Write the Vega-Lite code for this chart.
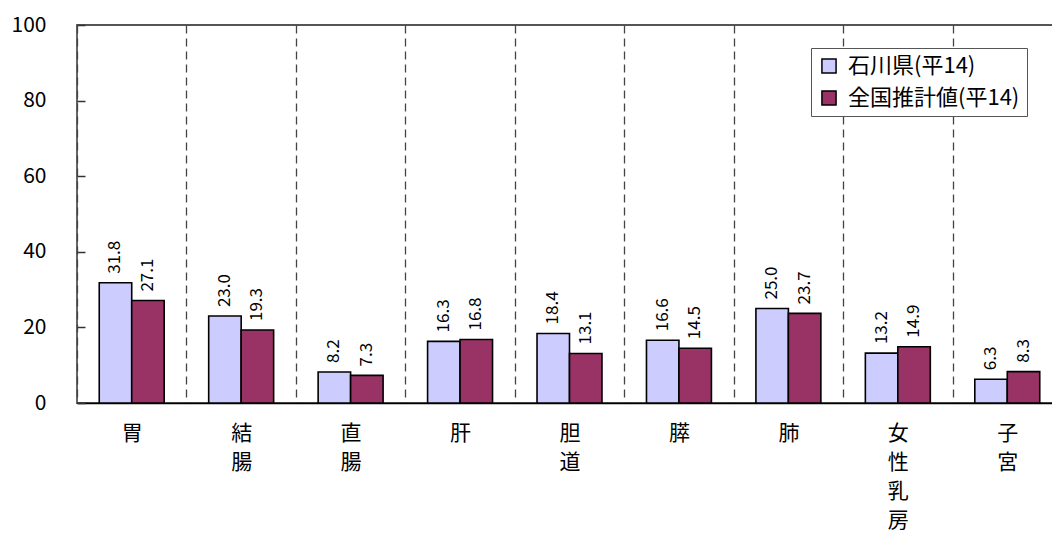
{
  "$schema": "https://vega.github.io/schema/vega-lite/v6.json",
  "width": 985,
  "height": 378,
  "autosize": "none",
  "padding": {"left": 77, "top": 25, "right": 0, "bottom": 141},
  "background": "white",
  "config": {
    "font": "Noto Sans CJK JP",
    "view": {"stroke": "#555555", "strokeWidth": 1.8}
  },
  "data": {
    "values": [
      {"site": "胃", "series": "石川県(平14)", "value": 31.8},
      {"site": "胃", "series": "全国推計値(平14)", "value": 27.1},
      {"site": "結腸", "series": "石川県(平14)", "value": 23.0},
      {"site": "結腸", "series": "全国推計値(平14)", "value": 19.3},
      {"site": "直腸", "series": "石川県(平14)", "value": 8.2},
      {"site": "直腸", "series": "全国推計値(平14)", "value": 7.3},
      {"site": "肝", "series": "石川県(平14)", "value": 16.3},
      {"site": "肝", "series": "全国推計値(平14)", "value": 16.8},
      {"site": "胆道", "series": "石川県(平14)", "value": 18.4},
      {"site": "胆道", "series": "全国推計値(平14)", "value": 13.1},
      {"site": "膵", "series": "石川県(平14)", "value": 16.6},
      {"site": "膵", "series": "全国推計値(平14)", "value": 14.5},
      {"site": "肺", "series": "石川県(平14)", "value": 25.0},
      {"site": "肺", "series": "全国推計値(平14)", "value": 23.7},
      {"site": "女性乳房", "series": "石川県(平14)", "value": 13.2},
      {"site": "女性乳房", "series": "全国推計値(平14)", "value": 14.9},
      {"site": "子宮", "series": "石川県(平14)", "value": 6.3},
      {"site": "子宮", "series": "全国推計値(平14)", "value": 8.3}
    ]
  },
  "encoding": {
    "x": {
      "field": "site", "type": "nominal", "sort": null,
      "scale": {"paddingInner": 0, "paddingOuter": 0},
      "axis": {
        "title": null, "labelAngle": 0, "ticks": false, "tickBand": "extent",
        "grid": true, "gridDash": [8, 5], "gridColor": "#444444", "gridWidth": 1.3,
        "domainColor": "#000000", "domainWidth": 1.5,
        "labelExpr": "split(datum.label, '')",
        "labelFontSize": 21, "labelColor": "#000000", "labelLineHeight": 29,
        "labelPadding": 19, "labelBaseline": "top", "labelFont": "Noto Sans CJK JP"
      }
    },
    "xOffset": {
      "field": "series", "type": "nominal",
      "sort": ["石川県(平14)", "全国推計値(平14)"],
      "scale": {"paddingInner": 0, "paddingOuter": 0.685}
    },
    "y": {
      "field": "value", "type": "quantitative",
      "scale": {"domain": [0, 100], "nice": false},
      "axis": {
        "title": null, "values": [0, 20, 40, 60, 80, 100], "grid": false,
        "ticks": true, "offset": -8, "tickSize": 8, "tickColor": "#333333", "tickWidth": 1.5, "tickOpacity": 1, "zindex": 1,
        "domain": false,
        "labelFontSize": 21, "labelColor": "#000000", "labelPadding": 31,
        "labelFont": "Noto Sans CJK JP"
      }
    }
  },
  "layer": [
    {
      "mark": {"type": "bar", "stroke": "#000000", "strokeWidth": 1.6},
      "encoding": {
        "color": {
          "field": "series", "type": "nominal",
          "sort": ["石川県(平14)", "全国推計値(平14)"],
          "scale": {"domain": ["石川県(平14)", "全国推計値(平14)"], "range": ["#CCCCFF", "#993366"]},
          "legend": {
            "title": null, "orient": "none", "legendX": 734, "legendY": 23,
            "symbolType": "square", "symbolSize": 200, "symbolStrokeColor": "#000000",
            "symbolStrokeWidth": 1.5, "labelFontSize": 22, "labelColor": "#000000",
            "labelFont": "Noto Sans CJK JP", "rowPadding": 10,
            "fillColor": "#ffffff", "strokeColor": "#555555", "padding": 7,
            "labelLimit": 300, "labelOffset": 8
          }
        }
      }
    },
    {
      "mark": {"type": "text", "angle": -90, "align": "left", "baseline": "middle", "dx": 9, "fontSize": 17, "color": "#000000"},
      "encoding": {
        "text": {"field": "value", "type": "quantitative", "format": ".1f"}
      }
    }
  ]
}
